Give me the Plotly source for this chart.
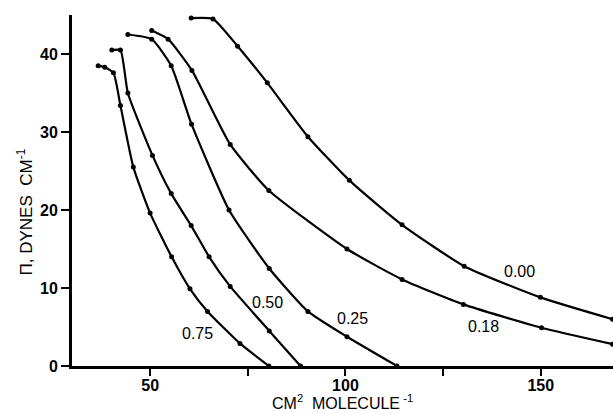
import plotly.graph_objects as go

# Surface pressure (dynes/cm) vs area per molecule (cm^2/molecule, scaled)
x_000 = [60.5, 66.1, 72.4, 80.0, 90.4, 101.0, 114.5, 130.4, 149.9, 168.4]
y_000 = [44.6, 44.5, 41.0, 36.3, 29.4, 23.8, 18.1, 12.8, 8.8, 6.0]

x_018 = [50.4, 54.6, 60.7, 70.5, 80.4, 100.4, 114.5, 130.2, 150.2, 168.4]
y_018 = [43.0, 41.9, 37.9, 28.4, 22.5, 15.0, 11.1, 7.9, 4.9, 2.8]

x_025 = [44.3, 50.4, 55.4, 60.6, 70.2, 80.5, 90.4, 100.4, 113.2]
y_025 = [42.5, 41.9, 38.5, 31.0, 20.0, 12.5, 7.0, 3.75, 0.0]

x_050 = [40.2, 42.4, 44.3, 50.6, 55.4, 60.5, 65.1, 70.5, 80.5, 88.5]
y_050 = [40.5, 40.5, 35.0, 27.0, 22.1, 18.0, 14.0, 10.2, 4.5, 0.0]

x_075 = [36.7, 38.4, 40.6, 42.4, 45.7, 50.0, 55.5, 60.2, 64.7, 73.0, 80.4]
y_075 = [38.5, 38.3, 37.6, 33.4, 25.5, 19.6, 14.0, 9.9, 7.0, 2.9, 0.0]

series = [("0.00", x_000, y_000), ("0.18", x_018, y_018), ("0.25", x_025, y_025),
          ("0.50", x_050, y_050), ("0.75", x_075, y_075)]

label_text = ["0.00", "0.18", "0.25", "0.50", "0.75"]
label_x = [144.6, 135.3, 101.7, 80.0, 62.2]
label_y = [12.1, 5.1, 6.1, 8.2, 4.2]

x_tickvals = [50, 100, 150]
x_minor_tickvals = [75, 125]
y_tickvals = [0, 10, 20, 30, 40]

FONT = "Liberation Sans, Arial, sans-serif"

fig = go.Figure()
for name, xs, ys in series:
    fig.add_trace(go.Scatter(
        x=xs, y=ys, mode="lines+markers", name=name,
        line=dict(color="black", width=2.2, shape="spline", smoothing=0.5),
        marker=dict(color="black", size=5),
        showlegend=False, cliponaxis=True,
    ))

for t, lx, ly in zip(label_text, label_x, label_y):
    fig.add_annotation(x=lx, y=ly, text=t, showarrow=False,
                       font=dict(family=FONT, size=16, color="black"))

fig.add_annotation(xref="paper", yref="paper", x=0.5, y=-0.137,
                   xanchor="center", yanchor="bottom", showarrow=False,
                   text="CM<sup>2</sup>  MOLECULE<sup> -1</sup>",
                   font=dict(family=FONT, size=16, color="black"))
fig.add_annotation(xref="paper", yref="paper", x=-0.087, y=0.44,
                   xanchor="center", yanchor="middle", showarrow=False,
                   textangle=-90,
                   text="Π, DYNES  CM<sup>-1</sup>",
                   font=dict(family=FONT, size=17, color="black"))

fig.update_xaxes(range=[30, 168.5], showgrid=False, zeroline=False,
                 showline=True, linecolor="black", linewidth=3,
                 ticks="outside", ticklen=7, tickwidth=2, tickcolor="black",
                 ticklabelstandoff=-4,
                 tickvals=x_tickvals,
                 minor=dict(tickvals=x_minor_tickvals, ticks="outside",
                            ticklen=7, tickwidth=2, tickcolor="black",
                            showgrid=False),
                 tickfont=dict(family=FONT, size=16, color="black", weight="bold"))
fig.update_yaxes(range=[0, 45], showgrid=False, zeroline=False,
                 showline=True, linecolor="black", linewidth=3,
                 ticks="outside", ticklen=8, tickwidth=2, tickcolor="black",
                 tickvals=y_tickvals,
                 tickfont=dict(family=FONT, size=16, color="black", weight="bold"))

fig.update_layout(width=613, height=414,
                  margin=dict(l=72, r=0, t=15, b=48),
                  plot_bgcolor="white", paper_bgcolor="white")

fig.write_html("out.html")
